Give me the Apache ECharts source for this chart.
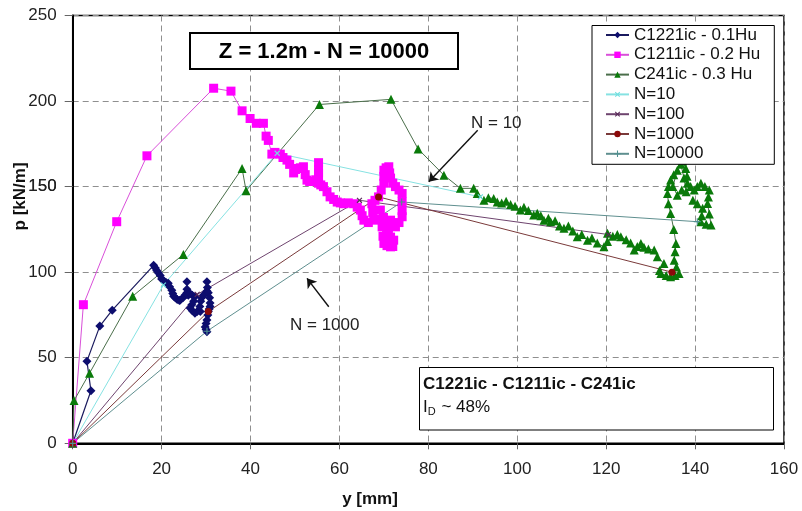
<!DOCTYPE html>
<html><head><meta charset="utf-8">
<script src="https://cdn.jsdelivr.net/npm/echarts/dist/echarts.min.js"></script>
<style>html,body{margin:0;padding:0;background:#fff}#c{width:802px;height:511px}</style>
</head><body><div id="c"></div>
<script>
const FONT = '"Liberation Sans", Arial, sans-serif';

const seriesNames = ['C1221ic - 0.1Hu', 'C1211ic - 0.2 Hu', 'C241ic - 0.3 Hu', 'N=10', 'N=100', 'N=1000', 'N=10000'];
const xTicks = [0, 20, 40, 60, 80, 100, 120, 140, 160];
const yTicks = [0, 50, 100, 150, 200, 250];

// [y (mm), p (kN/m)]
const c1221 = [[0,0],[4.1,30.7],[3.2,48],[6.1,68.5],[8.9,77.8],[18.2,104],[18.6,102.5],[18.9,101],[19.3,99.5],
  [19.7,98],[20,96],[20.5,95],[21,94],[21.5,93.5],[21.8,91.5],[22.3,89.5],[22.5,87.5],[22.7,86],[23.1,85],
  [23.5,84],[24,83.5],[24.2,83.7],[24.8,85],[25.3,86.6],[25.7,88],[25.7,94.4],[25.7,90],[25.7,87],[26,86.5],
  [26.4,87.6],[26.9,86.5],[27.5,85.6],[27.2,83],[26.8,81],[26.4,79],[26.9,77.5],[27.5,76],[28,77],[28.7,77],
  [28.6,80],[28.8,83],[29,85],[29.4,86.5],[29.8,87.6],[30.2,89],[30.2,94.4],[30.3,91],[30.5,88],[30.8,85],
  [30.9,82],[30.9,80],[30.7,78.5],[30.5,77],[30.4,75],[30.2,72],[30,70],[29.8,68],[30,66.5],[30.2,65.2]];
const c1211 = [[0,0],[2.4,81],[9.9,129.5],[16.7,168],[31.7,207.5],[35.6,205.8],[38.1,194.3],[39.9,189.8],
  [41.3,187],[42.9,187],[43.5,179.5],[44,177],[44.8,169],[45.5,170],[46.7,169],[47.3,167],[48.2,165.5],
  [48.8,163],[49.7,158],[50.1,160],[50.4,160.6],[51.2,161],[51.9,161.6],[52.3,157],[52.7,153.8],[53.3,153],
  [54,153],[54.7,154],[55.3,155],[55.3,160],[55.3,164],[55.3,158],[55.3,152],[55.8,151],[56.4,150],[57.2,147],
  [57.9,144],[58.7,142.5],[59.5,141],[60.2,140.5],[61,140],[62,140.5],[63.2,140],[64,138],[64.7,136.3],
  [65.1,133],[65.5,130.4],[66.5,129],[67.7,130.4],[67.5,135],[67.3,140],[68,142],[68.8,144],[69.4,148],
  [70,152],[70,156],[70,159.6],[70.5,161],[71.1,161.6],[71.3,158],[71.5,155],[72,152],[72.6,150],[73.4,148],
  [74.1,146],[74.1,141],[74.1,136],[74.1,132.4],[73.4,129],[72.6,126.5],[72,128],[71.5,130.4],[71,126],
  [70.7,122.7],[71.5,120.5],[72.2,118.7],[71.8,116.5],[71.5,114.8],[70.7,115.5],[70,116.8],[69.8,121],
  [69.6,126.5],[69.4,131],[69.2,136.3],[69.9,132],[70.5,128],[71,122],[72,115]];
const c241 = [[0,0],[0.3,25],[3.8,41],[13.5,86],[24.9,110.4],[38.1,160.6],[39,147.6],[55.5,198],[71.6,201],
  [77.7,172],[83.5,156.7],[87.2,149],[90.2,149],[91,146],[92.5,142.1],[93.5,143.5],[94.7,143],[95.5,141],
  [96.5,140.5],[97.5,141.5],[98.5,139.5],[99.5,138.5],[100.7,136.3],[101.5,138],[102.5,136],[103.7,133.4],
  [104.5,134.5],[105.3,133],[106,130.4],[107,131.5],[107.5,129.4],[108.5,130],[109.5,127],[110.5,125.6],
  [111.5,127],[112.5,124],[113.5,120.7],[114.5,122],[115.8,118.7],[116.8,120],[118,117],[119.5,114.8],
  [120.3,118],[120.3,122.7],[121.5,121],[122.5,122],[123.3,120.7],[124.5,119],[125.5,117],[126.3,112.9],
  [127,115],[127.8,116.8],[128.5,114.5],[129.5,113.5],[130.8,112.9],[131.5,109],[133,105.1],[132,101],
  [132.3,99.3],[133.5,98],[134.5,97.3],[135.5,98],[136.4,99.3],[135.8,103],[135.3,107],[135.5,112],
  [135.7,116.8],[135.2,125],[134.5,134.3],[134,140],[133.8,146],[134,150],[134.5,153.8],[135.2,157],
  [136,159.6],[135,150],[136,145],[137,148],[138,147],[137.5,155],[136.8,163],[137.2,165],[137.9,160.6],
  [138.2,156],[138.3,151.9],[139,150],[139.8,148],[140.5,150],[141.3,151.9],[142.2,150],[143.2,148],
  [143,144],[142.8,140.2],[143.2,134],[143.6,127.5],[142.5,128],[141.3,129.4],[141.5,133],[141.7,137.3],
  [140.5,140],[139.5,142]];
const n10 = [[0,0],[20.4,92.5],[46,169.5],[91.7,144]];
const n100 = [[0,0],[28,87],[64.5,142],[120.5,122]];
const n1000 = [[0,0],[30.5,77],[68.8,144],[134.8,100]];
const n10000 = [[0,0],[30.2,65.5],[74,141],[140.5,129.5]];

const PLUS = 'path://M-1,-6H1V-1H6V1H1V6H-1V1H-6V-1H-1Z';

const chart = echarts.init(document.getElementById('c'), null, {renderer: 'canvas'});

function lineSeries(name, data, color, lineColor, symbol, size, extra) {
  return Object.assign({
    name, type: 'line', data, symbol, symbolSize: size, showAllSymbol: true,
    itemStyle: {color: color},
    lineStyle: {color: lineColor, width: 1},
    animation: false, z: 3
  }, extra || {});
}

chart.setOption({
  backgroundColor: '#fff',
  animation: false,
  textStyle: {fontFamily: FONT},
  grid: {left: 72.7, right: 18, top: 15.5, bottom: 67.7, show: true, borderColor: '#000', borderWidth: 1.5},
  xAxis: {
    type: 'value', min: xTicks[0], max: xTicks[xTicks.length - 1], interval: 20,
    axisLine: {lineStyle: {color: '#000', width: 2}},
    axisTick: {show: true, length: 6, lineStyle: {color: '#666'}},
    splitLine: {show: true, lineStyle: {color: '#8f8f8f', type: [6, 4], width: 1}},
    axisLabel: {fontSize: 17, color: '#222', margin: 18}
  },
  yAxis: {
    type: 'value', min: yTicks[0], max: yTicks[yTicks.length - 1], interval: 50,
    name: 'p [kN/m]', nameLocation: 'middle', nameRotate: 90, nameGap: 44, nameMoveOverlap: false,
    nameTextStyle: {fontSize: 17, fontWeight: 'bold', color: '#111', padding: [0, 0, 0, 66]},
    axisLine: {show: true, lineStyle: {color: '#000', width: 2}},
    axisTick: {show: true, length: 8, lineStyle: {color: '#666'}},
    splitLine: {show: true, lineStyle: {color: '#8f8f8f', type: [6, 4], width: 1}},
    axisLabel: {fontSize: 17, color: '#222', margin: 16, hideOverlap: false}
  },
  legend: {
    data: seriesNames,
    orient: 'vertical', left: 592, top: 25.5,
    backgroundColor: '#fff', borderColor: '#000', borderWidth: 1,
    padding: [1, 14, 2, 13], itemGap: 2.8, itemWidth: 23, itemHeight: 8,
    textStyle: {fontSize: 17, color: '#111'}
  },
  series: [
    lineSeries(seriesNames[0], c1221, '#0d0d6e', '#1a1a5e', 'diamond', 9, {lineStyle: {color: '#1a1a5e', width: 1.2}}),
    lineSeries(seriesNames[1], c1211, '#ff00ff', '#d94fd9', 'rect', 9),
    lineSeries(seriesNames[2], c241, '#0a7a0a', '#4a6e4a', 'triangle', 9),
    lineSeries(seriesNames[3], n10, '#6fe0e0', '#86e2e2', PLUS, 7, {symbolRotate: 45}),
    lineSeries(seriesNames[4], n100, '#5a2a5a', '#6e446e', PLUS, 7, {symbolRotate: 45}),
    lineSeries(seriesNames[5], n1000, '#8b0a0a', '#7a3a3a', 'circle', 7),
    lineSeries(seriesNames[6], n10000, '#4f8f8f', '#5f8f8f', PLUS, 7),
    {
      name: 'arrows', type: 'line', data: [], animation: false,
      markLine: {
        silent: true, animation: false,
        symbol: ['none', 'arrow'], symbolSize: 9,
        lineStyle: {color: '#111', width: 1.4, type: 'solid'},
        label: {show: false},
        data: [
          [{coord: [91.1, 183]}, {coord: [80.1, 152.8]}],
          [{coord: [57.6, 79.8]}, {coord: [52.7, 96.4]}]
        ]
      }
    }
  ],
  graphic: [
    {type: 'rect', z: 50, shape: {x: 190, y: 33, width: 268, height: 36},
      style: {fill: '#fff', stroke: '#000', lineWidth: 2}},
    {type: 'text', z: 51, x: 324, y: 51.5,
      style: {text: 'Z = 1.2m - N = 10000', font: 'bold 22px ' + FONT, fill: '#000', align: 'center', verticalAlign: 'middle'}},
    {type: 'rect', z: 50, shape: {x: 419.5, y: 367.5, width: 354, height: 62.5},
      style: {fill: '#fff', stroke: '#000', lineWidth: 1}},
    {type: 'text', z: 51, x: 423, y: 384,
      style: {text: 'C1221ic - C1211ic - C241ic', font: 'bold 17px ' + FONT, fill: '#111', align: 'left', verticalAlign: 'middle'}},
    {type: 'text', z: 51, x: 423, y: 407,
      style: {text: '{a|I}{b|D}{a| ~ 48%}', fill: '#111', align: 'left', verticalAlign: 'middle',
        rich: {a: {fontSize: 17, fontFamily: FONT, fill: '#111', verticalAlign: 'middle'},
               b: {fontSize: 11, fontFamily: FONT, fill: '#111', padding: [10, 1, 0, 0]}}}},
    {type: 'text', z: 51, x: 471, y: 123.5,
      style: {text: 'N = 10', font: '17px ' + FONT, fill: '#222', align: 'left', verticalAlign: 'middle'}},
    {type: 'text', z: 51, x: 290, y: 325,
      style: {text: 'N = 1000', font: '17px ' + FONT, fill: '#222', align: 'left', verticalAlign: 'middle'}},
    {type: 'text', z: 51, x: 370, y: 499,
      style: {text: 'y [mm]', font: 'bold 17px ' + FONT, fill: '#111', align: 'center', verticalAlign: 'middle'}},
    {type: 'text', z: 51, x: 56.7, y: 186.5,
      style: {text: String(yTicks[3]), font: '17px ' + FONT, fill: '#222', align: 'right', verticalAlign: 'middle'}}
  ]
});
</script></body></html>
